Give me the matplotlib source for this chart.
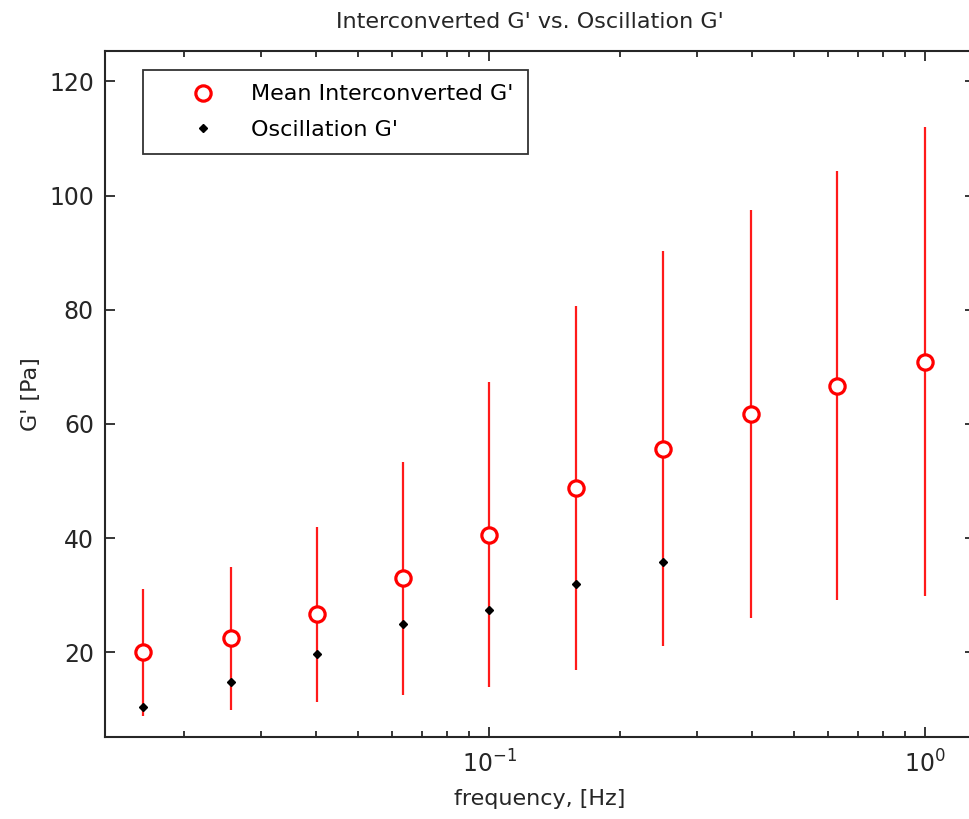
import numpy as np
import matplotlib
matplotlib.use("Agg")
import matplotlib.pyplot as plt
from matplotlib.ticker import LogLocator, NullFormatter, FixedLocator

freq = [0.0161, 0.0256, 0.0403, 0.0635, 0.1, 0.1583, 0.2506, 0.399, 0.628, 1.0]
mean_g = [20.0, 22.45, 26.7, 33.0, 40.6, 48.85, 55.7, 61.8, 66.7, 70.9]
err_g = [11.1, 12.45, 15.35, 20.4, 26.7, 31.85, 34.5, 35.7, 37.55, 41.1]
osc_freq = [0.0161, 0.0256, 0.0403, 0.0635, 0.1, 0.1583, 0.2506]
osc_g = [10.5, 14.75, 19.65, 24.97, 27.35, 31.98, 35.76]
yticks = [20, 40, 60, 80, 100, 120]

plt.rcParams['font.family'] = ['DejaVu Sans']

fig = plt.figure(figsize=(9.69, 8.19), dpi=100)
ax = fig.add_axes([105/969, 82/819, 870/969, 686/819])

ax.errorbar(freq, mean_g, yerr=err_g, fmt='none', ecolor='#ff1a1a',
            elinewidth=1.6, capsize=0, zorder=2)
ax.plot(freq, mean_g, 'o', mfc='white', mec='#ff0000', mew=2.3, ms=11,
        ls='none', label="Mean Interconverted G'", zorder=3)
ax.plot(osc_freq, osc_g, 'D', color='black', ms=4.5, ls='none',
        label="Oscillation G'", zorder=4)

ax.set_xscale('log')
ax.set_xlim(0.01315, 1.302)
ax.set_ylim(5.2, 125.3)
ax.set_yticks(yticks)
ax.xaxis.set_major_locator(FixedLocator([0.1, 1.0]))
ax.xaxis.set_minor_locator(LogLocator(base=10, subs=np.arange(2, 10)))
ax.xaxis.set_minor_formatter(NullFormatter())

ax.tick_params(which='both', direction='in', top=True, right=True,
               width=1.3, labelsize=17, color='#262626', labelcolor='#262626')
ax.tick_params(which='major', length=7)
ax.tick_params(axis='x', which='major', pad=10)
ax.tick_params(axis='y', which='major', pad=8)
ax.tick_params(which='minor', length=4.5)
for s in ax.spines.values():
    s.set_linewidth(1.5)
    s.set_color('#262626')
ax.spines['right'].set_visible(False)

fig.text(530/969, 1 - 22/819, "Interconverted G' vs. Oscillation G'",
         fontsize=16, ha='center', va='center', color='#262626')
ax.set_xlabel("frequency, [Hz]", fontsize=16, labelpad=8, color='#262626')
ax.set_ylabel("G' [Pa]", fontsize=16, labelpad=6, color='#262626')

leg = ax.legend(loc='upper left', bbox_to_anchor=(38/870, 1 - 19/686),
                borderaxespad=0, fontsize=16, frameon=True, fancybox=False,
                edgecolor='black', borderpad=0.65, handlelength=4.1,
                handletextpad=0.1, labelspacing=0.7)
leg.get_frame().set_linewidth(1.3)

fig.savefig('out.png', dpi=100)
